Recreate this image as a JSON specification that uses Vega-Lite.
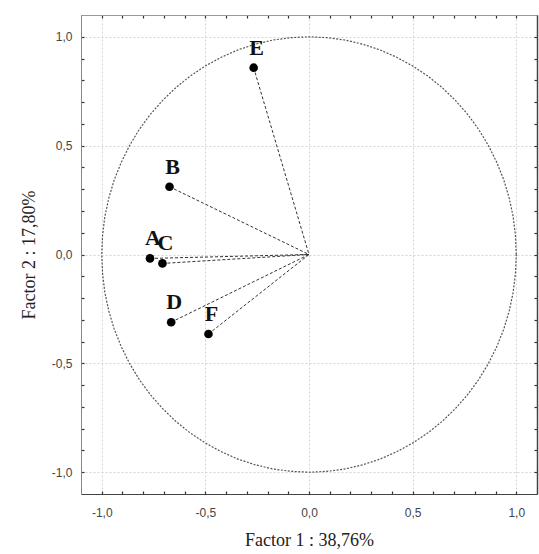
{
  "$schema": "https://vega.github.io/schema/vega-lite/v6.json",
  "width": 456,
  "height": 479,
  "autosize": {"type": "none"},
  "padding": {"left": 81, "top": 15, "right": 2, "bottom": 60},
  "background": "white",
  "config": {"view": {"stroke": "#999", "strokeWidth": 1}},
  "datasets": {
    "pts": [
      {"v": "A", "x": -0.767, "y": -0.018},
      {"v": "B", "x": -0.673, "y": 0.311},
      {"v": "C", "x": -0.707, "y": -0.041},
      {"v": "D", "x": -0.665, "y": -0.311},
      {"v": "E", "x": -0.267, "y": 0.858},
      {"v": "F", "x": -0.485, "y": -0.365}
    ],
    "circle": [
      {"i": 0, "cx": 1, "cy": 0}, {"i": 1, "cx": 0.996, "cy": 0.087}, {"i": 2, "cx": 0.985, "cy": 0.174}, {"i": 3, "cx": 0.966, "cy": 0.259},
      {"i": 4, "cx": 0.94, "cy": 0.342}, {"i": 5, "cx": 0.906, "cy": 0.423}, {"i": 6, "cx": 0.866, "cy": 0.5}, {"i": 7, "cx": 0.819, "cy": 0.574},
      {"i": 8, "cx": 0.766, "cy": 0.643}, {"i": 9, "cx": 0.707, "cy": 0.707}, {"i": 10, "cx": 0.643, "cy": 0.766}, {"i": 11, "cx": 0.574, "cy": 0.819},
      {"i": 12, "cx": 0.5, "cy": 0.866}, {"i": 13, "cx": 0.423, "cy": 0.906}, {"i": 14, "cx": 0.342, "cy": 0.94}, {"i": 15, "cx": 0.259, "cy": 0.966},
      {"i": 16, "cx": 0.174, "cy": 0.985}, {"i": 17, "cx": 0.087, "cy": 0.996}, {"i": 18, "cx": 0, "cy": 1}, {"i": 19, "cx": -0.087, "cy": 0.996},
      {"i": 20, "cx": -0.174, "cy": 0.985}, {"i": 21, "cx": -0.259, "cy": 0.966}, {"i": 22, "cx": -0.342, "cy": 0.94}, {"i": 23, "cx": -0.423, "cy": 0.906},
      {"i": 24, "cx": -0.5, "cy": 0.866}, {"i": 25, "cx": -0.574, "cy": 0.819}, {"i": 26, "cx": -0.643, "cy": 0.766}, {"i": 27, "cx": -0.707, "cy": 0.707},
      {"i": 28, "cx": -0.766, "cy": 0.643}, {"i": 29, "cx": -0.819, "cy": 0.574}, {"i": 30, "cx": -0.866, "cy": 0.5}, {"i": 31, "cx": -0.906, "cy": 0.423},
      {"i": 32, "cx": -0.94, "cy": 0.342}, {"i": 33, "cx": -0.966, "cy": 0.259}, {"i": 34, "cx": -0.985, "cy": 0.174}, {"i": 35, "cx": -0.996, "cy": 0.087},
      {"i": 36, "cx": -1, "cy": 0}, {"i": 37, "cx": -0.996, "cy": -0.087}, {"i": 38, "cx": -0.985, "cy": -0.174}, {"i": 39, "cx": -0.966, "cy": -0.259},
      {"i": 40, "cx": -0.94, "cy": -0.342}, {"i": 41, "cx": -0.906, "cy": -0.423}, {"i": 42, "cx": -0.866, "cy": -0.5}, {"i": 43, "cx": -0.819, "cy": -0.574},
      {"i": 44, "cx": -0.766, "cy": -0.643}, {"i": 45, "cx": -0.707, "cy": -0.707}, {"i": 46, "cx": -0.643, "cy": -0.766}, {"i": 47, "cx": -0.574, "cy": -0.819},
      {"i": 48, "cx": -0.5, "cy": -0.866}, {"i": 49, "cx": -0.423, "cy": -0.906}, {"i": 50, "cx": -0.342, "cy": -0.94}, {"i": 51, "cx": -0.259, "cy": -0.966},
      {"i": 52, "cx": -0.174, "cy": -0.985}, {"i": 53, "cx": -0.087, "cy": -0.996}, {"i": 54, "cx": 0, "cy": -1}, {"i": 55, "cx": 0.087, "cy": -0.996},
      {"i": 56, "cx": 0.174, "cy": -0.985}, {"i": 57, "cx": 0.259, "cy": -0.966}, {"i": 58, "cx": 0.342, "cy": -0.94}, {"i": 59, "cx": 0.423, "cy": -0.906},
      {"i": 60, "cx": 0.5, "cy": -0.866}, {"i": 61, "cx": 0.574, "cy": -0.819}, {"i": 62, "cx": 0.643, "cy": -0.766}, {"i": 63, "cx": 0.707, "cy": -0.707},
      {"i": 64, "cx": 0.766, "cy": -0.643}, {"i": 65, "cx": 0.819, "cy": -0.574}, {"i": 66, "cx": 0.866, "cy": -0.5}, {"i": 67, "cx": 0.906, "cy": -0.423},
      {"i": 68, "cx": 0.94, "cy": -0.342}, {"i": 69, "cx": 0.966, "cy": -0.259}, {"i": 70, "cx": 0.985, "cy": -0.174}, {"i": 71, "cx": 0.996, "cy": -0.087},
      {"i": 72, "cx": 1, "cy": 0}
    ]
  },
  "resolve": {"axis": {"x": "independent", "y": "independent"}},
  "layer": [
    {
      "data": {"name": "circle"},
      "mark": {"type": "line", "color": "#555", "strokeWidth": 1.2, "strokeDash": [2, 1.5]},
      "encoding": {
        "x": {
          "field": "cx", "type": "quantitative",
          "scale": {"domain": [-1.1, 1.1], "nice": false, "zero": false},
          "axis": {
            "orient": "bottom",
            "values": [-1.0, -0.9, -0.8, -0.7, -0.6, -0.5, -0.4, -0.3, -0.2, -0.1, 0, 0.1, 0.2, 0.3, 0.4, 0.5, 0.6, 0.7, 0.8, 0.9, 1.0],
            "labelExpr": "abs(datum.value*2 - round(datum.value*2)) < 0.001 ? replace(replace(format(datum.value, '.1f'), '.', ','), '\u2212', '-') : ''",
            "labelOverlap": false, "labelFlush": false,
            "grid": true, "gridColor": "#d4d4d4", "gridDash": [2, 2],
            "gridOpacity": {"condition": {"test": "abs(datum.value*2 - round(datum.value*2)) < 0.001", "value": 1}, "value": 0},
            "tickSize": -3, "tickWidth": 1.2, "tickColor": "#333", "domainColor": "#444",
            "labelFont": "Liberation Sans", "labelFontSize": 12, "labelColor": "#444", "labelPadding": 16,
            "title": "Factor 1 : 38,76%", "titleFont": "Liberation Serif", "titleFontSize": 18,
            "titleFontWeight": "normal", "titleColor": "#222", "titlePadding": 13
          }
        },
        "y": {
          "field": "cy", "type": "quantitative",
          "scale": {"domain": [-1.1, 1.1], "nice": false, "zero": false},
          "axis": {
            "orient": "left",
            "values": [-1.0, -0.9, -0.8, -0.7, -0.6, -0.5, -0.4, -0.3, -0.2, -0.1, 0, 0.1, 0.2, 0.3, 0.4, 0.5, 0.6, 0.7, 0.8, 0.9, 1.0],
            "labelExpr": "abs(datum.value*2 - round(datum.value*2)) < 0.001 ? replace(replace(format(datum.value, '.1f'), '.', ','), '\u2212', '-') : ''",
            "labelOverlap": false, "labelFlush": false,
            "grid": true, "gridColor": "#d4d4d4", "gridDash": [2, 2],
            "gridOpacity": {"condition": {"test": "abs(datum.value*2 - round(datum.value*2)) < 0.001", "value": 1}, "value": 0},
            "tickSize": -3, "tickWidth": 1.2, "tickColor": "#333", "domainColor": "#888",
            "labelFont": "Liberation Sans", "labelFontSize": 12, "labelColor": "#444", "labelPadding": 12,
            "title": "Factor 2 : 17,80%", "titleFont": "Liberation Serif", "titleFontSize": 18,
            "titleFontWeight": "normal", "titleColor": "#222", "titlePadding": 13
          }
        },
        "order": {"field": "i", "type": "quantitative"}
      }
    },
    {
      "data": {"name": "pts"},
      "mark": {"type": "rule", "color": "#333", "strokeWidth": 1, "strokeDash": [3, 2]},
      "encoding": {
        "x": {
          "field": "x", "type": "quantitative",
          "axis": {
            "orient": "top",
            "values": [-1.0, -0.9, -0.8, -0.7, -0.6, -0.5, -0.4, -0.3, -0.2, -0.1, 0, 0.1, 0.2, 0.3, 0.4, 0.5, 0.6, 0.7, 0.8, 0.9, 1.0],
            "labels": false, "grid": false, "title": null,
            "tickSize": -3, "tickWidth": 1.2, "tickColor": "#333", "domainColor": "#999"
          }
        },
        "y": {
          "field": "y", "type": "quantitative",
          "axis": {
            "orient": "right",
            "values": [-1.0, -0.9, -0.8, -0.7, -0.6, -0.5, -0.4, -0.3, -0.2, -0.1, 0, 0.1, 0.2, 0.3, 0.4, 0.5, 0.6, 0.7, 0.8, 0.9, 1.0],
            "labels": false, "grid": false, "title": null,
            "tickSize": -3, "tickWidth": 1.2, "tickColor": "#333", "domainColor": "#444", "domainWidth": 1.5
          }
        },
        "x2": {"datum": 0},
        "y2": {"datum": 0}
      }
    },
    {
      "data": {"name": "pts"},
      "mark": {"type": "circle", "color": "black", "size": 75, "opacity": 1},
      "encoding": {
        "x": {"field": "x", "type": "quantitative", "axis": null},
        "y": {"field": "y", "type": "quantitative", "axis": null}
      }
    },
    {
      "data": {"name": "pts"},
      "mark": {"type": "text", "font": "Liberation Serif", "fontWeight": "bold", "fontSize": 22, "color": "#111", "align": "center", "baseline": "alphabetic", "dx": 3, "dy": -13},
      "encoding": {
        "x": {"field": "x", "type": "quantitative", "axis": null},
        "y": {"field": "y", "type": "quantitative", "axis": null},
        "text": {"field": "v"}
      }
    }
  ]
}
